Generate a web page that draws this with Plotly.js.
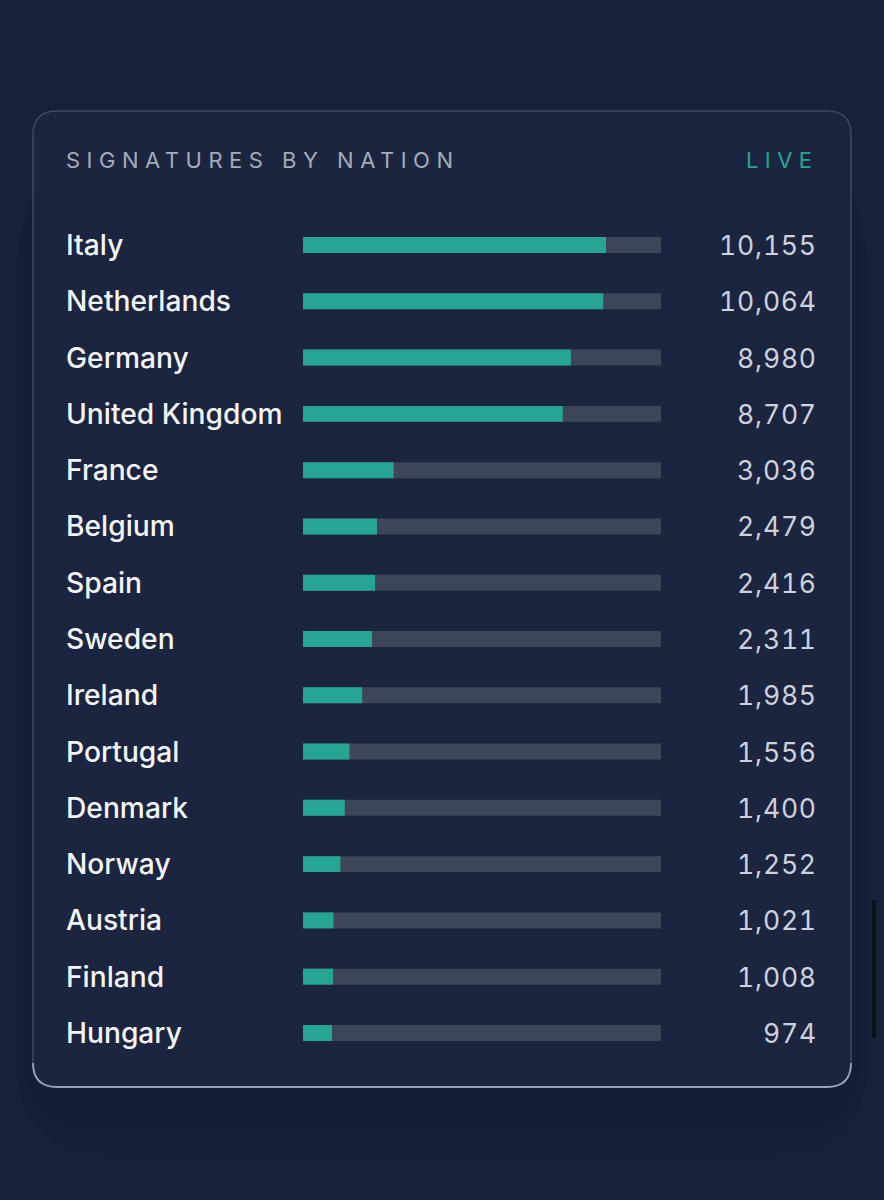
<!DOCTYPE html>
<html>
<head>
<meta charset="utf-8">
<script src="https://cdn.plot.ly/plotly-3.0.1.min.js"></script>
<style>
  html, body { margin: 0; padding: 0; background: #19213a; }
  #chart { width: 884px; height: 1200px; }
</style>
</head>
<body>
<div id="chart"></div>
<script>
// Signature counts per nation
const nations = [
  "Italy", "Netherlands", "Germany", "United Kingdom", "France",
  "Belgium", "Spain", "Sweden", "Ireland", "Portugal",
  "Denmark", "Norway", "Austria", "Finland", "Hungary"
];
const signatures = [
  10155, 10064, 8980, 8707, 3036,
  2479, 2416, 2311, 1985, 1556,
  1400, 1252, 1021, 1008, 974
];
const scaleMax = 12000;          // full length of each progress track
const headerText = "SIGNATURES BY NATION";
const liveText = "LIVE";

// page geometry helpers (pixel -> paper fraction)
const W = 884, H = 1200;
const px = x => x / W;
const py = y => 1 - y / H;

function roundedRect(x0, y0, x1, y1, r) {
  return [
    `M ${px(x0 + r)} ${py(y0)}`,
    `L ${px(x1 - r)} ${py(y0)}`,
    `Q ${px(x1)} ${py(y0)} ${px(x1)} ${py(y0 + r)}`,
    `L ${px(x1)} ${py(y1 - r)}`,
    `Q ${px(x1)} ${py(y1)} ${px(x1 - r)} ${py(y1)}`,
    `L ${px(x0 + r)} ${py(y1)}`,
    `Q ${px(x0)} ${py(y1)} ${px(x0)} ${py(y1 - r)}`,
    `L ${px(x0)} ${py(y0 + r)}`,
    `Q ${px(x0)} ${py(y0)} ${px(x0 + r)} ${py(y0)}`,
    "Z"
  ].join(" ");
}

function bottomEdge(x0, y1, x1, r) {
  return [
    `M ${px(x0)} ${py(y1 - r)}`,
    `Q ${px(x0)} ${py(y1)} ${px(x0 + r)} ${py(y1)}`,
    `L ${px(x1 - r)} ${py(y1)}`,
    `Q ${px(x1)} ${py(y1)} ${px(x1)} ${py(y1 - r)}`
  ].join(" ");
}

const tracked = (s, sp) => `<span style="letter-spacing:${sp}px">${s}</span>`;
const tabular = s => `<span style="font-variant-numeric:tabular-nums;letter-spacing:0.8px">${s}</span>`;

const trackTrace = {
  type: "bar",
  orientation: "h",
  y: nations,
  x: nations.map(() => scaleMax),
  marker: { color: "#3d4559", line: { width: 0 } },
  hoverinfo: "skip",
  showlegend: false
};

const valueTrace = {
  type: "bar",
  orientation: "h",
  y: nations,
  x: signatures,
  marker: { color: "#26a595", line: { width: 0 } },
  hovertemplate: "%{y}: %{x:,}<extra></extra>",
  showlegend: false
};

const FONT = "Inter, 'Noto Sans', sans-serif";

const annotations = [
  {
    text: tracked(headerText, 6.5), xref: "paper", yref: "paper",
    x: px(64), y: py(160), xanchor: "left", yanchor: "middle",
    showarrow: false,
    font: { family: FONT, size: 22, color: "#a4abba" }
  },
  {
    text: tracked(liveText, 6.4), xref: "paper", yref: "paper",
    x: px(820), y: py(160), xanchor: "right", yanchor: "middle",
    showarrow: false,
    font: { family: FONT, size: 22, color: "#27a594" }
  }
];

nations.forEach((name, i) => {
  annotations.push({
    text: name, xref: "paper", yref: "y",
    x: px(64), y: name, xanchor: "left", yanchor: "middle",
    showarrow: false,
    font: { family: FONT, size: 28.2, color: "#f3f5f8", weight: 500 }
  });
  annotations.push({
    text: tabular(signatures[i].toLocaleString("en-US")), xref: "paper", yref: "y",
    x: px(819), y: name, xanchor: "right", yanchor: "middle",
    showarrow: false,
    font: { family: FONT, size: 26.5, color: "#cdd2db", weight: 400 }
  });
});

const shapes = [
  // soft shadow under the card
  {
    type: "path", xref: "paper", yref: "paper", layer: "below",
    path: roundedRect(16, 176, 868, 1154, 95),
    fillcolor: "rgba(6,9,22,0.05)", line: { width: 0 }
  },
  {
    type: "path", xref: "paper", yref: "paper", layer: "below",
    path: roundedRect(24, 160, 860, 1128, 70),
    fillcolor: "rgba(6,9,22,0.04)", line: { width: 0 }
  },
  // card
  {
    type: "path", xref: "paper", yref: "paper", layer: "below",
    path: roundedRect(33, 111, 851, 1087, 24),
    fillcolor: "#1b2540", line: { color: "#3f4964", width: 1.5 }
  },
  // lit bottom edge
  {
    type: "path", xref: "paper", yref: "paper", layer: "below",
    path: bottomEdge(33, 1087, 851, 24),
    line: { color: "#9aa3b9", width: 1.8 }
  },
  // scroll indicator
  {
    type: "path", xref: "paper", yref: "paper", layer: "above",
    path: `M ${px(874)} ${py(900)} L ${px(874)} ${py(1038)}`,
    line: { color: "#0c101d", width: 4 }
  }
];

const layout = {
  width: W, height: H,
  margin: { l: 0, r: 0, t: 0, b: 0, pad: 0 },
  paper_bgcolor: "#19213a",
  plot_bgcolor: "rgba(0,0,0,0)",
  barmode: "overlay",
  bargap: 0.716,
  xaxis: {
    domain: [px(303), px(661)],
    range: [0, scaleMax],
    visible: false, fixedrange: true
  },
  yaxis: {
    domain: [py(1061.1), py(216.9)],
    range: [nations.length - 0.5, -0.5],
    type: "category",
    visible: false, fixedrange: true
  },
  shapes: shapes,
  annotations: annotations,
  showlegend: false
};

Plotly.newPlot("chart", [trackTrace, valueTrace], layout, { displayModeBar: false, staticPlot: true });
</script>
</body>
</html>
